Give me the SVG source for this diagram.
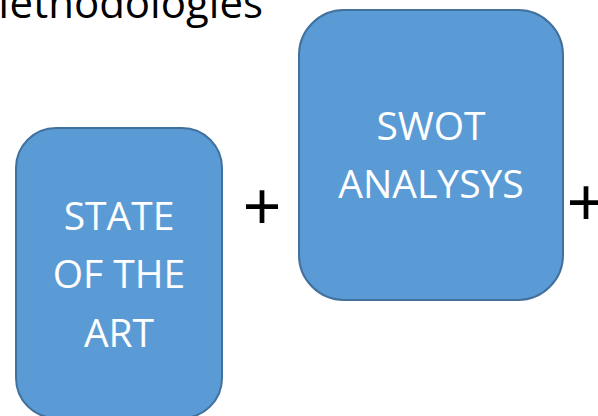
<svg xmlns="http://www.w3.org/2000/svg" width="598" height="416" viewBox="0 0 598 416">
<style>
.box{fill:#5B9BD5;stroke:#41719C;stroke-width:2}
.lbl{fill:#ffffff;font-family:"Open Sans","Liberation Sans",sans-serif;font-size:39px;text-anchor:middle}
.plus{fill:#000000;font-family:"Liberation Sans",sans-serif;font-size:66px;text-anchor:middle}
.title{fill:#000000;font-family:"Open Sans","Liberation Sans",sans-serif;font-size:42px;text-anchor:end}
</style>
<rect width="598" height="416" fill="#ffffff"/>
<text class="title" x="263" y="18">Methodologies</text>
<g id="state">
<rect class="box" x="16" y="128" width="206" height="290" rx="40" ry="40"/>
<text class="lbl" x="119" y="230">STATE</text>
<text class="lbl" x="119" y="288">OF THE</text>
<text class="lbl" x="119" y="347">ART</text>
</g>
<g id="swot">
<rect class="box" x="299" y="10" width="264" height="290" rx="45" ry="45"/>
<text class="lbl" x="431" y="140">SWOT</text>
<text class="lbl" x="431" y="198">ANALYSYS</text>
</g>
<g id="connectors">
<text class="plus" x="262" y="229">+</text>
<text class="plus" x="586" y="225">+</text>
</g>
</svg>
